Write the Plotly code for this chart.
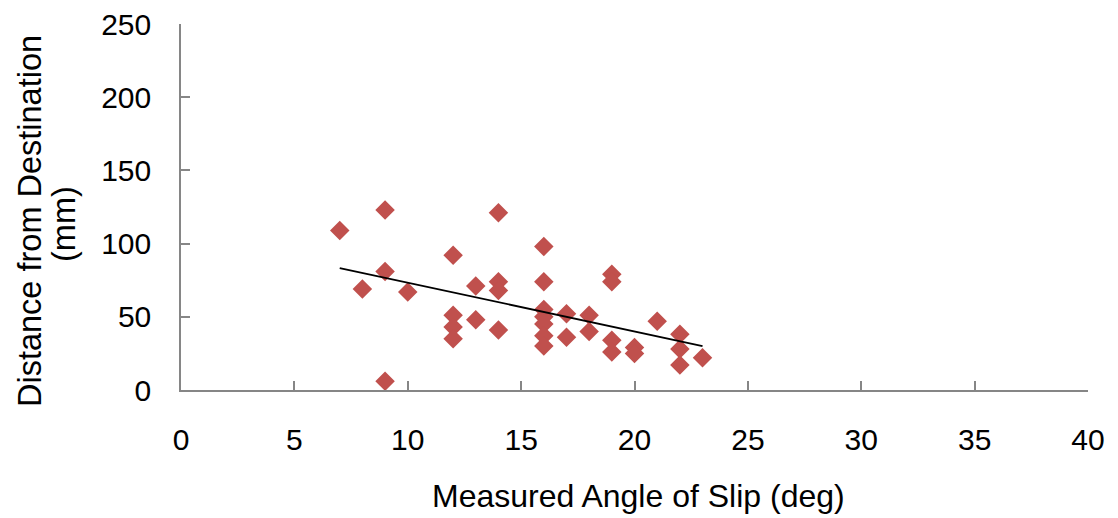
import numpy as np
import plotly.graph_objects as go

# Measured angle of slip (deg) and distance from destination (mm)
angle = [7, 8, 9, 9, 9, 10,
         12, 12, 12, 12, 13, 13,
         14, 14, 14, 14,
         16, 16, 16, 16, 16, 16, 16,
         17, 17, 18, 18,
         19, 19, 19, 19, 20, 20, 21,
         22, 22, 22, 23]
distance = [109, 69, 123, 81, 6, 67,
            92, 51, 43, 35, 71, 48,
            121, 74, 68, 41,
            98, 74, 55, 50, 45, 37, 30,
            52, 36, 51, 40,
            79, 74, 34, 26, 29, 25, 47,
            38, 28, 17, 22]

x_ticks = [0, 5, 10, 15, 20, 25, 30, 35, 40]
y_ticks = [0, 50, 100, 150, 200, 250]

x_title = "Measured Angle of Slip (deg)"
y_title_lines = ["Distance from Destination", "(mm)"]

# Linear trendline (least squares) over the data range
slope, intercept = np.polyfit(angle, distance, 1)
trend_x = [min(angle), max(angle)]
trend_y = [slope * v + intercept for v in trend_x]

font_family = "Liberation Sans, Arial, sans-serif"
axis_col = "#868686"

fig = go.Figure()
fig.add_trace(go.Scatter(
    x=angle, y=distance, mode="markers",
    marker=dict(symbol="diamond", size=15, color="#C0504D",
                line=dict(width=0)),
    showlegend=False,
))
fig.add_trace(go.Scatter(
    x=trend_x, y=trend_y, mode="lines",
    line=dict(color="black", width=1.8),
    showlegend=False,
))

fig.update_layout(
    width=1118, height=518,
    margin=dict(l=181, r=30, t=24, b=128),
    paper_bgcolor="white", plot_bgcolor="white",
    font=dict(family=font_family, size=30, color="black"),
)
fig.update_xaxes(
    range=[0, 40], tickvals=x_ticks, ticktext=[str(v) for v in x_ticks],
    showgrid=False, zeroline=False, automargin=False,
    showline=True, linecolor=axis_col, linewidth=1.5,
    ticks="inside", ticklen=9, tickcolor=axis_col, tickwidth=1.5,
    ticklabelstandoff=22, ticklabeloverflow="allow",
    tickfont=dict(size=30),
)
fig.update_yaxes(
    range=[0, 250], tickvals=y_ticks, ticktext=[str(v) for v in y_ticks],
    showgrid=False, zeroline=False, automargin=False,
    showline=True, linecolor=axis_col, linewidth=1.5,
    ticks="inside", ticklen=9, tickcolor=axis_col, tickwidth=1.5,
    ticklabelstandoff=22, ticklabeloverflow="allow",
    tickfont=dict(size=30),
)

# Axis titles
fig.add_annotation(
    text=x_title, xref="paper", yref="paper", x=0.504, y=0,
    xanchor="center", yanchor="middle", yshift=-106, showarrow=False,
    font=dict(size=32),
)
fig.add_annotation(
    text=y_title_lines[0], xref="paper", yref="paper", x=0, y=0.4617,
    xanchor="center", yanchor="middle", xshift=-151, textangle=-90,
    showarrow=False, font=dict(size=32.5),
)
fig.add_annotation(
    text=y_title_lines[1], xref="paper", yref="paper", x=0, y=0.4536,
    xanchor="center", yanchor="middle", xshift=-117, textangle=-90,
    showarrow=False, font=dict(size=32.5),
)

fig.write_html("out.html",
               config={"displayModeBar": False},
               post_script="document.body.style.margin='0';")
